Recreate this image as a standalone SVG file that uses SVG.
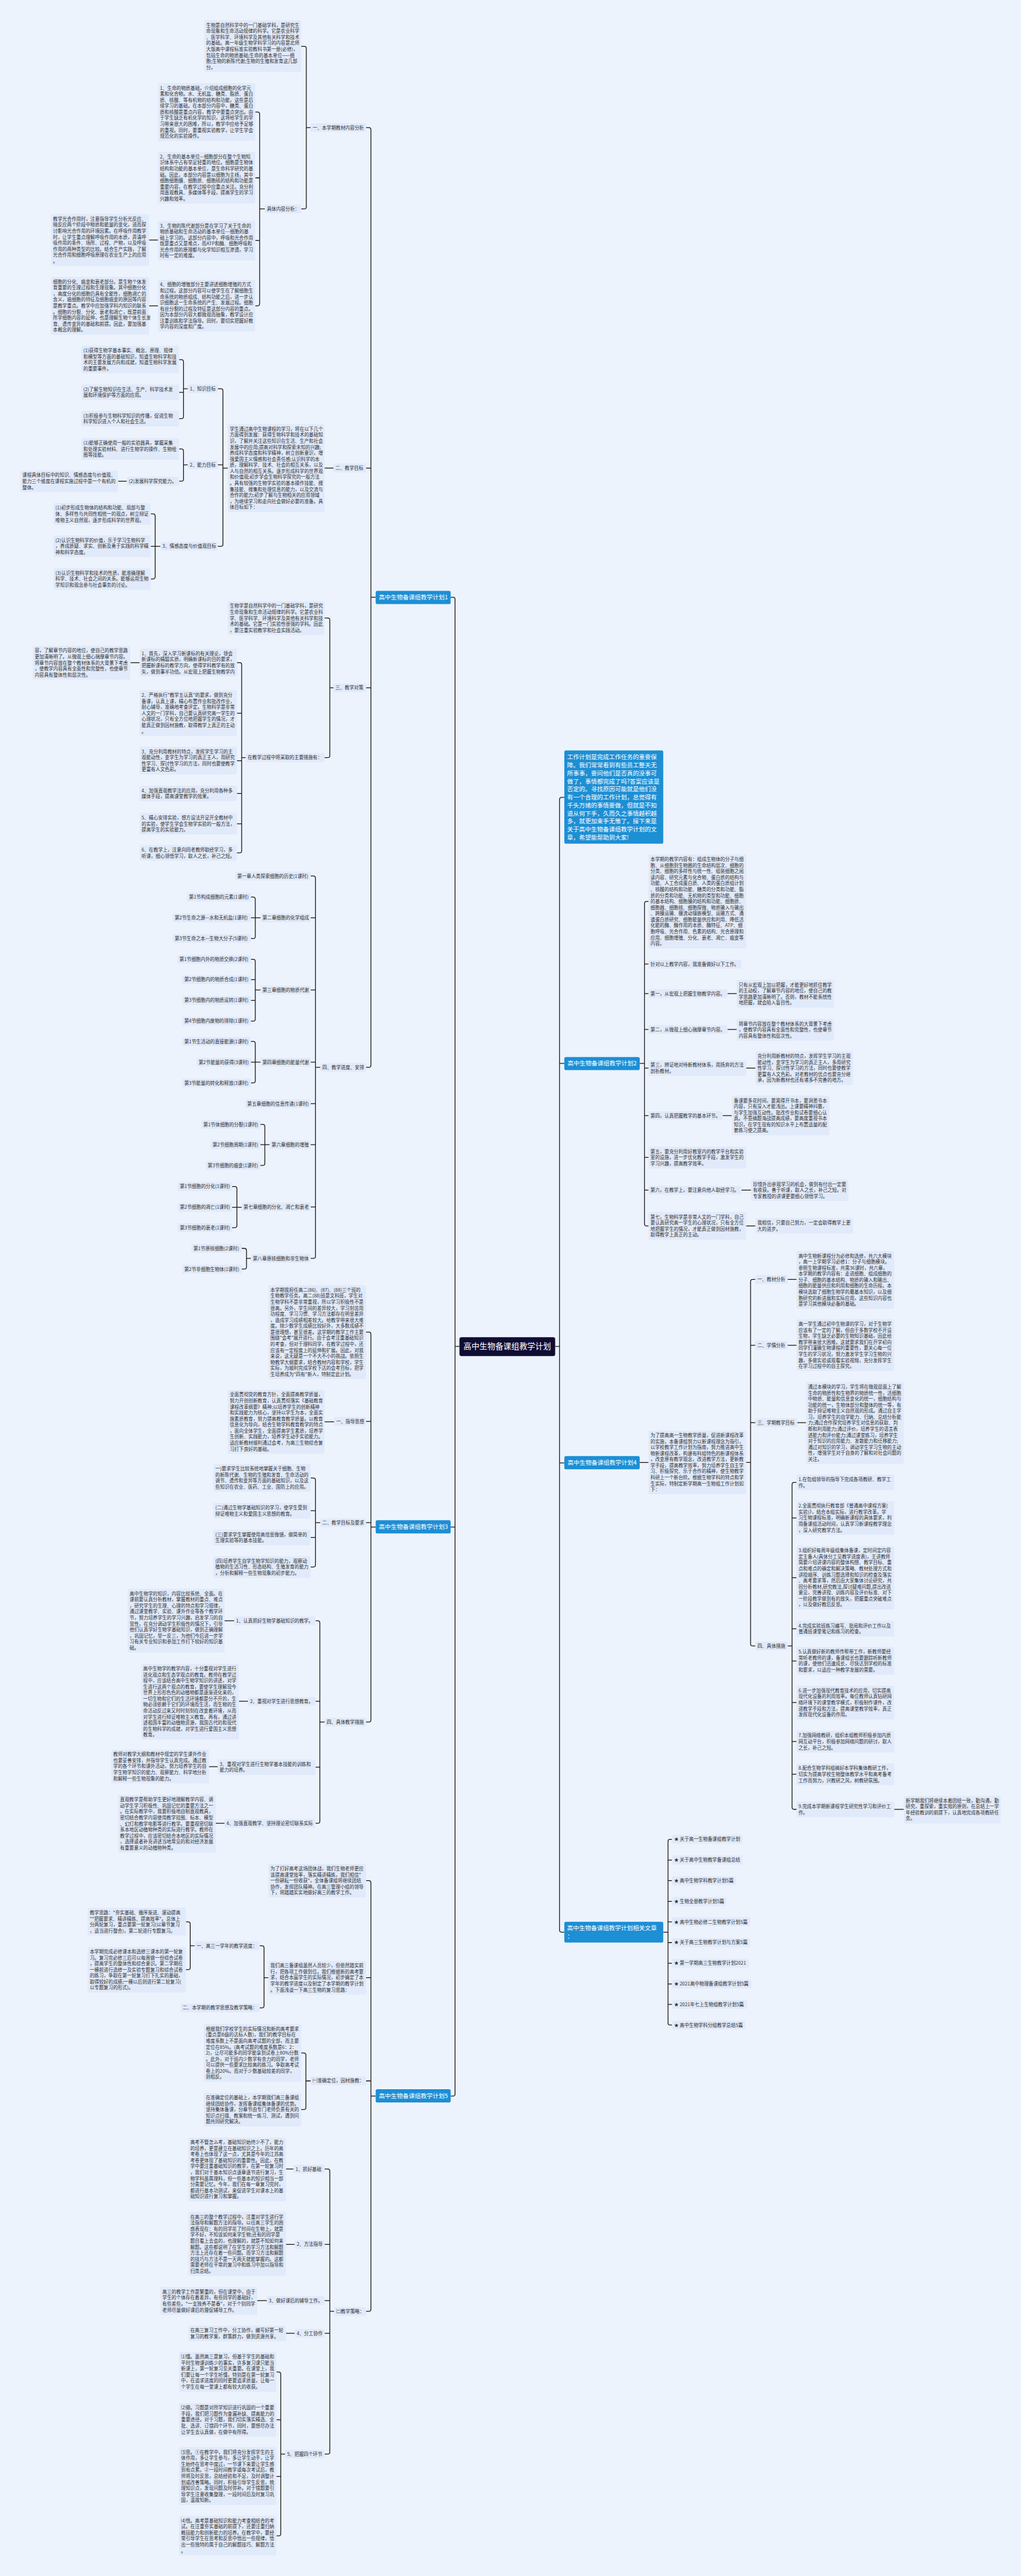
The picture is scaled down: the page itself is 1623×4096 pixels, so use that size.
<svg xmlns="http://www.w3.org/2000/svg" width="1623" height="4096" viewBox="0 0 1623 4096">
<style>
.bg{fill:#edf3fd}
.bx{fill:#e1eafa;rx:4px;ry:4px}
.t{font-family:"Noto Sans CJK SC","Noto Sans",sans-serif;font-size:11.7px;fill:#2e2e2e}
.l1{fill:#1c8fd5;rx:4px;ry:4px}
.cen{fill:#110c33;rx:5px;ry:5px}
.tw{font-family:"Noto Sans CJK SC","Noto Sans",sans-serif;font-size:15px;fill:#fff}
.ct{font-family:"Noto Sans CJK SC","Noto Sans",sans-serif;font-size:20px;fill:#fff;text-anchor:middle}
.cn{fill:none;stroke:#1a1a1a;stroke-width:2}
</style>
<rect class="bg" x="0" y="0" width="1623" height="4096"/>
<g transform="scale(0.63398)">
<g id="connectors" class="cn">
<path d="M755 116H763Q768 116 768 121V519Q768 524 763 524H755M768 320H779"/>
<path d="M640 281H646Q651 281 651 286V762Q651 767 646 767H640M640 446H651M640 603H651M651 524H664"/>
<path d="M374 602H396M374 767H396"/>
<path d="M918 320H925Q930 320 930 325V2672Q930 2677 925 2677H918M918 1174H930M918 1725H930M930 1498H942"/>
<path d="M814 1174H836"/>
<path d="M546 975H554Q559 975 559 980V1365Q559 1370 554 1370H546M546 1166H559M559 1174H571"/>
<path d="M449 902H455Q460 902 460 907V1045Q460 1050 455 1050H449M449 984H460M460 975H471"/>
<path d="M449 1126H455Q460 1126 460 1131V1202Q460 1207 455 1207H449M460 1166H471"/>
<path d="M296 1207H318"/>
<path d="M378 1289H384Q389 1289 389 1294V1447Q389 1452 384 1452H378M378 1370H402"/>
<path d="M814 1550H822Q827 1550 827 1555V1895Q827 1900 822 1900H814M827 1725H836"/>
<path d="M594 1662H601Q606 1662 606 1667V2134Q606 2139 601 2139H594M594 1789H606M594 1908H606M594 1990H606M594 2066H606M606 1900H616"/>
<path d="M327 1662H350"/>
<path d="M779 2197H786Q791 2197 791 2202V3151Q791 3156 786 3156H779M779 2302H791M779 2483H791M779 2664H791M779 2768H791M779 2871H791M779 3027H791M791 2677H803"/>
<path d="M629 2250H635Q640 2250 640 2255V2349Q640 2354 635 2354H629M629 2302H653"/>
<path d="M629 2406H635Q640 2406 640 2411V2556Q640 2561 635 2561H629M629 2457H640M629 2509H640M640 2483H653"/>
<path d="M629 2612H635Q640 2612 640 2617V2711Q640 2716 635 2716H629M629 2664H653"/>
<path d="M653 2820H659Q664 2820 664 2825V2918Q664 2923 659 2923H653M653 2871H676"/>
<path d="M582 2976H589Q594 2976 594 2981V3074Q594 3079 589 3079H582M582 3028H606"/>
<path d="M606 3131H613Q618 3131 618 3136V3178Q618 3183 613 3183H606M618 3156H629"/>
<path d="M1130 1498H1136Q1141 1498 1141 1503V5252Q1141 5257 1136 5257H1130M1130 3830H1141M1141 3377H1152"/>
<path d="M918 3341H925Q930 3341 930 3346V4314Q930 4319 925 4319H918M918 3565H930M918 3819H930M930 3830H942"/>
<path d="M814 3566H838"/>
<path d="M779 3707H786Q791 3707 791 3712V3925Q791 3930 786 3930H779M779 3789H791M779 3856H791M791 3819H803"/>
<path d="M791 4065H797Q802 4065 802 4070V4568Q802 4573 797 4573H791M791 4267H802M791 4432H802M802 4319H814"/>
<path d="M563 4065H587M599 4267H622M524 4431H546M541 4573H563"/>
<path d="M918 4717H925Q930 4717 930 4722V5792Q930 5797 925 5797H918M918 4960H930M918 5219H930M930 5257H942"/>
<path d="M651 4880H657Q662 4880 662 4885V5031Q662 5036 657 5036H651M662 4960H673"/>
<path d="M466 4820H472Q477 4820 477 4825V4935Q477 4940 472 4940H466M477 4880H488"/>
<path d="M755 5149H762Q767 5149 767 5154V5286Q767 5291 762 5291H755M767 5219H779"/>
<path d="M814 5440H822Q827 5440 827 5445V6150Q827 6155 822 6155H814M814 5629H827M814 5770H827M814 5852H827M827 5797H838"/>
<path d="M717 5440H736M717 5629H739M645 5770H669M717 5852H739"/>
<path d="M693 5949H699Q704 5949 704 5954V6355Q704 6360 699 6360H693M693 6069H704M693 6211H704M704 6155H715"/>
<path d="M1415 2000H1408Q1403 2000 1403 2005V4841Q1403 4846 1408 4846H1415M1403 2667H1415M1403 3669H1415M1392 3377H1403"/>
<path d="M1626 2261H1621Q1616 2261 1616 2266V3070Q1616 3075 1621 3075H1626M1616 2418H1626M1616 2492H1626M1616 2582H1626M1616 2679H1626M1616 2798H1626M1616 2903H1626M1616 2985H1626M1604 2667H1616"/>
<path d="M1824 2492H1847M1824 2582H1847M1871 2679H1894M1812 2798H1835M1859 2985H1883M1871 3075H1894"/>
<path d="M1604 3668H1626"/>
<path d="M1894 3209H1887Q1882 3209 1882 3214V4123Q1882 4128 1887 4128H1894M1882 3374H1894M1882 3568H1894M1871 3668H1882"/>
<path d="M1975 3209H1997M1975 3374H1997M1999 3568H2021"/>
<path d="M1997 3718H1991Q1986 3718 1986 3723V4533Q1986 4538 1991 4538H1997M1986 3807H1997M1986 3957H1997M1986 4085H1997M1986 4166H1997M1986 4270H1997M1986 4368H1997M1986 4450H1997M1975 4128H1986"/>
<path d="M2242 4538H2266"/>
<path d="M1685 4613H1680Q1675 4613 1675 4618V5074Q1675 5079 1680 5079H1685M1675 4665H1685M1675 4717H1685M1675 4769H1685M1675 4820H1685M1675 4872H1685M1675 4924H1685M1675 4976H1685M1675 5027H1685M1663 4846H1675"/>
</g>

<g id="center"><rect class="cen" x="1152" y="3354" width="240" height="47"/><text class="ct" x="1272" y="3384">高中生物备课组教学计划</text></g>

<!-- 计划1 -->
<g id="plan1"><rect class="l1" x="942" y="1482" width="188" height="33"/><text class="tw" x="950" y="1503.4">高中生物备课组教学计划1</text></g>
<g id="p1-s1"><rect class="bx" x="779" y="309" width="139" height="22"/><text class="t" x="784" y="324.3">一、本学期教材内容分析</text></g>
<g id="p1-a1"><rect class="bx" x="512" y="51" width="243" height="129.7"/><text class="t" x="517" y="67.3"><tspan x="517">生物是自然科学中的一门基础学科，是研究生</tspan><tspan x="517" dy="15.1">命现象和生命活动规律的科学。它是农业科学</tspan><tspan x="517" dy="15.1">、医学科学、环境科学及其他有关科学和技术</tspan><tspan x="517" dy="15.1">的基础。高一年级生物学科学习的内容是北师</tspan><tspan x="517" dy="15.1">大版高中课程标准实验教科书第一册(必修)，</tspan><tspan x="517" dy="15.1">包括生命的物质基础;生命的基本单位——细</tspan><tspan x="517" dy="15.1">胞;生物的新陈代谢;生物的生殖和发育这几部</tspan><tspan x="517" dy="15.1">分。</tspan></text></g>
<g id="p1-jt"><rect class="bx" x="664" y="513" width="91" height="22"/><text class="t" x="669" y="528.3">具体内容分析：</text></g>
<g id="p1-b1"><rect class="bx" x="396" y="208.6" width="244" height="144.8"/><text class="t" x="401" y="224.9"><tspan x="401">1、生命的物质基础，介绍组成细胞的化学元</tspan><tspan x="401" dy="15.1">素和化合物。水、无机盐、糖类、脂质、蛋白</tspan><tspan x="401" dy="15.1">质、核酸、等有机物的结构和功能，这些是后</tspan><tspan x="401" dy="15.1">续学习的基础。在本部分内容中，糖类、蛋白</tspan><tspan x="401" dy="15.1">质和核酸是重点内容，教学中要重点突出。由</tspan><tspan x="401" dy="15.1">于学生缺乏有机化学的知识，这将给学生的学</tspan><tspan x="401" dy="15.1">习带来很大的困难，所以，教学中应给予足够</tspan><tspan x="401" dy="15.1">的重视。同时，要重视实验教学，让学生学会</tspan><tspan x="401" dy="15.1">规范化的实验操作。</tspan></text></g>
<g id="p1-b2"><rect class="bx" x="396" y="381" width="244" height="129.7"/><text class="t" x="401" y="397.3"><tspan x="401">2、生命的基本单位—细胞部分在整个生物知</tspan><tspan x="401" dy="15.1">识体系中占有举足轻重的地位。细胞是生物体</tspan><tspan x="401" dy="15.1">结构和功能的基本单位，是生命科学研究的基</tspan><tspan x="401" dy="15.1">础。因此，本部分内容是以细胞为主线，其中</tspan><tspan x="401" dy="15.1">细胞细胞膜、细胞质、细胞核的结构和功能是</tspan><tspan x="401" dy="15.1">重要内容，在教学过程中应重点关注。充分利</tspan><tspan x="401" dy="15.1">用直观教具、多媒体等手段，提高学生的学习</tspan><tspan x="401" dy="15.1">兴趣和效率。</tspan></text></g>
<g id="p1-b3"><rect class="bx" x="396" y="554" width="244" height="99.5"/><text class="t" x="401" y="570.3"><tspan x="401">3、生物的陈代谢部分是在学习了关于生命的</tspan><tspan x="401" dy="15.1">物质基础和生命活动的基本单位---细胞的基</tspan><tspan x="401" dy="15.1">础上学习的。这部分内容中，呼吸和光合作用</tspan><tspan x="401" dy="15.1">既是重点又是难点，而ATP和酶、细胞呼吸和</tspan><tspan x="401" dy="15.1">光合作用的原理都与化学知识相互渗透，学习</tspan><tspan x="401" dy="15.1">时有一定的难度。</tspan></text></g>
<g id="p1-c3"><rect class="bx" x="128" y="537" width="246" height="129.7"/><text class="t" x="133" y="553.3"><tspan x="133">教学光合作用时，注意指导学生分析光反应、</tspan><tspan x="133" dy="15.1">暗反应两个阶段中物质和能量的变化，进而探</tspan><tspan x="133" dy="15.1">讨影响光合作用的环境因素。在呼吸作用教学</tspan><tspan x="133" dy="15.1">时，让学生重点理解呼吸作用的本质，弄清呼</tspan><tspan x="133" dy="15.1">吸作用的条件、场所、过程、产物，以及呼吸</tspan><tspan x="133" dy="15.1">作用的两种类型的比较。结合生产实践，了解</tspan><tspan x="133" dy="15.1">光合作用和细胞呼吸原理在农业生产上的应用</tspan><tspan x="133" dy="15.1">。</tspan></text></g>
<g id="p1-b4"><rect class="bx" x="396" y="702" width="244" height="129.7"/><text class="t" x="401" y="718.3"><tspan x="401">4、细胞的增殖部分主要讲述细胞增殖的方式</tspan><tspan x="401" dy="15.1">和过程。这部分内容可以使学生在了解细胞生</tspan><tspan x="401" dy="15.1">命系统的物质组成、结构功能之后，进一步认</tspan><tspan x="401" dy="15.1">识细胞这一生命系统的产生、发展过程。细胞</tspan><tspan x="401" dy="15.1">有丝分裂的过程及特征是这部分内容的重点。</tspan><tspan x="401" dy="15.1">因为本部分内容大都微观而抽象，教学设计应</tspan><tspan x="401" dy="15.1">注重训练和学法指导。同时，要切实把握好教</tspan><tspan x="401" dy="15.1">学内容的深度和广度。</tspan></text></g>
<g id="p1-c4"><rect class="bx" x="128" y="694.6" width="246" height="144.8"/><text class="t" x="133" y="710.9"><tspan x="133">细胞的分化、癌变和衰老部分。是生物个体发</tspan><tspan x="133" dy="15.1">育重要的生理过程和生理现象。其中细胞分化</tspan><tspan x="133" dy="15.1">，高度分化的细胞仍具有全能性，细胞凋亡的</tspan><tspan x="133" dy="15.1">含义，癌细胞的特征及细胞癌变的原因等内容</tspan><tspan x="133" dy="15.1">是教学重点。教学中应加强学科内知识的联系</tspan><tspan x="133" dy="15.1">。细胞的分裂、分化、衰老和凋亡，既是前面</tspan><tspan x="133" dy="15.1">所学细胞内容的延伸，也是理解生物个体生长发</tspan><tspan x="133" dy="15.1">育、遗传变异的基础和前提。因此，要加强基</tspan><tspan x="133" dy="15.1">本概念的理解。</tspan></text></g>
<g id="p1-s2"><rect class="bx" x="836" y="1163" width="82" height="22"/><text class="t" x="841" y="1178.3">二、教学目标</text></g>
<g id="p1-d"><rect class="bx" x="571" y="1063.9" width="243" height="220.3"/><text class="t" x="576" y="1080.2"><tspan x="576">学生通过高中生物课程的学习，将在以下几个</tspan><tspan x="576" dy="15.1">方面得到发展：获得生物科学和技术的基础知</tspan><tspan x="576" dy="15.1">识，了解并关注这些知识在生活、生产和社会</tspan><tspan x="576" dy="15.1">发展中的应用;提高对科学和探索未知的兴趣;</tspan><tspan x="576" dy="15.1">养成科学态度和科学精神，树立创新意识，增</tspan><tspan x="576" dy="15.1">强爱国主义情感和社会责任感;认识科学的本</tspan><tspan x="576" dy="15.1">质，理解科学、技术、社会的相互关系，以及</tspan><tspan x="576" dy="15.1">人与自然的相互关系。逐步形成科学的世界观</tspan><tspan x="576" dy="15.1">和价值观;初步学会生物科学探究的一般方法</tspan><tspan x="576" dy="15.1">。具有较强的生物学实验的基本操作技能、搜</tspan><tspan x="576" dy="15.1">集技能、搜集和处理信息的能力，以及交流与</tspan><tspan x="576" dy="15.1">合作的能力;初步了解与生物相关的应用领域</tspan><tspan x="576" dy="15.1">，为继续学习和走向社会做好必要的准备。具</tspan><tspan x="576" dy="15.1">体目标如下：</tspan></text></g>
<g id="p1-zs"><rect class="bx" x="471" y="964" width="75" height="22"/><text class="t" x="476" y="979.3">1、知识目标</text></g>
<g id="p1-e1"><rect class="bx" x="204" y="867" width="245" height="69.3"/><text class="t" x="209" y="883.3"><tspan x="209">(1)获得生物学基本事实、概念、原理、规律</tspan><tspan x="209" dy="15.1">和模型等方面的基础知识，知道生物科学和技</tspan><tspan x="209" dy="15.1">术的主要发展方向和成就，知道生物科学发展</tspan><tspan x="209" dy="15.1">的重要事件。</tspan></text></g>
<g id="p1-e2"><rect class="bx" x="204" y="964.5" width="245" height="39.1"/><text class="t" x="209" y="980.8"><tspan x="209">(2)了解生物知识在生活、生产、科学技术发</tspan><tspan x="209" dy="15.1">展和环境保护等方面的应用。</tspan></text></g>
<g id="p1-e3"><rect class="bx" x="204" y="1030.5" width="245" height="39.1"/><text class="t" x="209" y="1046.8"><tspan x="209">(3)积极参与生物科学知识的传播，促进生物</tspan><tspan x="209" dy="15.1">科学知识进入个人和社会生活。</tspan></text></g>
<g id="p1-nl"><rect class="bx" x="471" y="1155" width="75" height="22"/><text class="t" x="476" y="1170.3">2、能力目标</text></g>
<g id="p1-f1"><rect class="bx" x="204" y="1099" width="245" height="54.2"/><text class="t" x="209" y="1115.3"><tspan x="209">(1)能够正确使用一般的实验器具，掌握采集</tspan><tspan x="209" dy="15.1">和处理实验材料、进行生物学的操作、生物绘</tspan><tspan x="209" dy="15.1">图等技能。</tspan></text></g>
<g id="p1-f2"><rect class="bx" x="318" y="1196" width="131" height="22"/><text class="t" x="323" y="1211.3">(2)发展科学探究能力。</text></g>
<g id="p1-g"><rect class="bx" x="51" y="1180" width="245" height="54.2"/><text class="t" x="56" y="1196.3"><tspan x="56">课程具体目标中的知识、情感态度与价值观、</tspan><tspan x="56" dy="15.1">能力三个维度在课程实施过程中是一个有机的</tspan><tspan x="56" dy="15.1">整体。</tspan></text></g>
<g id="p1-qg"><rect class="bx" x="402" y="1359" width="144" height="22"/><text class="t" x="407" y="1374.3">3、情感态度与价值观目标</text></g>
<g id="p1-h1"><rect class="bx" x="134" y="1262" width="244" height="54.2"/><text class="t" x="139" y="1278.3"><tspan x="139">(1)初步形成生物体的结构和功能、局部与整</tspan><tspan x="139" dy="15.1">体、多样性与共同性相统一的观点，树立辩证</tspan><tspan x="139" dy="15.1">唯物主义自然观，逐步形成科学的世界观。</tspan></text></g>
<g id="p1-h2"><rect class="bx" x="134" y="1343" width="244" height="54.2"/><text class="t" x="139" y="1359.3"><tspan x="139">(2)认识生物科学的价值，乐于学习生物科学</tspan><tspan x="139" dy="15.1">，养成质疑、求实、创新及勇于实践的科学精</tspan><tspan x="139" dy="15.1">神和科学态度。</tspan></text></g>
<g id="p1-h3"><rect class="bx" x="134" y="1425" width="244" height="54.2"/><text class="t" x="139" y="1441.3"><tspan x="139">(3)认识生物科学和技术的性质，能准确理解</tspan><tspan x="139" dy="15.1">科学、技术、社会之间的关系。能够运用生物</tspan><tspan x="139" dy="15.1">学知识和观念参与社会事务的讨论。</tspan></text></g>
<g id="p1-s3"><rect class="bx" x="836" y="1714" width="82" height="22"/><text class="t" x="841" y="1729.3">三、教学对策</text></g>
<g id="p1-i1"><rect class="bx" x="571" y="1508" width="243" height="84.4"/><text class="t" x="576" y="1524.3"><tspan x="576">生物学是自然科学中的一门基础学科，是研究</tspan><tspan x="576" dy="15.1">生命现象和生命活动规律的科学。它是农业科</tspan><tspan x="576" dy="15.1">学、医学科学、环境科学及其他有关科学和技</tspan><tspan x="576" dy="15.1">术的基础。它是一门实验性很强的学科。因此</tspan><tspan x="576" dy="15.1">，要注重实验教学和社会实践活动。</tspan></text></g>
<g id="p1-cs"><rect class="bx" x="616" y="1889" width="198" height="22"/><text class="t" x="621" y="1904.3">在教学过程中将采取的主要措施有：</text></g>
<g id="p1-j1"><rect class="bx" x="350" y="1627" width="244" height="69.3"/><text class="t" x="355" y="1643.3"><tspan x="355">1、首先，深入学习新课标的有关理论，领会</tspan><tspan x="355" dy="15.1">新课标的精髓实质，明确新课标的目的要求，</tspan><tspan x="355" dy="15.1">把握新课标的教学方向，使得学科教学有的放</tspan><tspan x="355" dy="15.1">矢，做到事半功倍。从宏观上把握生物教学内</tspan></text></g>
<g id="p1-j1a"><rect class="bx" x="82" y="1620" width="245" height="84.4"/><text class="t" x="87" y="1636.3"><tspan x="87">容，了解章节内容的地位，使自己的教学思路</tspan><tspan x="87" dy="15.1">更加清晰明了。从微观上细心揣摩章节内容。</tspan><tspan x="87" dy="15.1">将章节内容放在整个教材体系的大背景下考虑</tspan><tspan x="87" dy="15.1">，使教学内容具有全面性和完整性，也使章节</tspan><tspan x="87" dy="15.1">内容具有整体性和层次性。</tspan></text></g>
<g id="p1-j2"><rect class="bx" x="350" y="1731.7" width="244" height="114.6"/><text class="t" x="355" y="1748"><tspan x="355">2、严格执行"教学五认真"的要求，做到充分</tspan><tspan x="355" dy="15.1">备课，认真上课，精心布置作业和批改作业，</tspan><tspan x="355" dy="15.1">耐心辅导，准确地考查评定。生物科学是非常</tspan><tspan x="355" dy="15.1">人文的一门学科，自己要认真研究高一学生的</tspan><tspan x="355" dy="15.1">心理状况，只有全方位地把握学生的情况，才</tspan><tspan x="355" dy="15.1">能真正做到因材施教，取得教学上真正的主动</tspan><tspan x="355" dy="15.1">。</tspan></text></g>
<g id="p1-j3"><rect class="bx" x="350" y="1873" width="244" height="69.3"/><text class="t" x="355" y="1889.3"><tspan x="355">3、充分利用教材的特点，发挥学生学习的主</tspan><tspan x="355" dy="15.1">观能动性，变学生为学习的真正主人，用研究</tspan><tspan x="355" dy="15.1">性学习、探讨性学习的方法，同时也要使教学</tspan><tspan x="355" dy="15.1">更富有人文色彩。</tspan></text></g>
<g id="p1-j4"><rect class="bx" x="350" y="1970.5" width="244" height="39.1"/><text class="t" x="355" y="1986.8"><tspan x="355">4、加强直观教学法的应用，充分利用各种多</tspan><tspan x="355" dy="15.1">媒体手段，提高课堂教学的效果。</tspan></text></g>
<g id="p1-j5"><rect class="bx" x="350" y="2039" width="244" height="54.2"/><text class="t" x="355" y="2055.3"><tspan x="355">5、精心安排实验，想方设法开足开全教材中</tspan><tspan x="355" dy="15.1">的实验，使学生学会生物学实验的一般方法，</tspan><tspan x="355" dy="15.1">提高学生的实验能力。</tspan></text></g>
<g id="p1-j6"><rect class="bx" x="350" y="2119.5" width="244" height="39.1"/><text class="t" x="355" y="2135.8"><tspan x="355">6、在教学上，注意向同老教师取经学习，多</tspan><tspan x="355" dy="15.1">听课，细心领悟学习，取人之长，补己之短。</tspan></text></g>
<g id="p1-s4"><rect class="bx" x="803" y="2666" width="115" height="22"/><text class="t" x="808" y="2681.3">四、教学进度、安排</text></g>
<g id="ch1"><rect class="bx" x="590" y="2186" width="189" height="22"/><text class="t" x="595" y="2201.3">第一章人类探索细胞的历史(1课时)</text></g>
<g id="ch2"><rect class="bx" x="653" y="2291" width="126" height="22"/><text class="t" x="658" y="2306.3">第二章细胞的化学组成</text></g>
<g id="ch3"><rect class="bx" x="653" y="2472" width="126" height="22"/><text class="t" x="658" y="2487.3">第三章细胞的物质代谢</text></g>
<g id="ch4"><rect class="bx" x="653" y="2653" width="126" height="22"/><text class="t" x="658" y="2668.3">第四章细胞的能量代谢</text></g>
<g id="ch5"><rect class="bx" x="615" y="2757" width="164" height="22"/><text class="t" x="620" y="2772.3">第五章细胞的信息传递(1课时)</text></g>
<g id="ch6"><rect class="bx" x="676" y="2860" width="103" height="22"/><text class="t" x="681" y="2875.3">第六章细胞的增殖</text></g>
<g id="ch7"><rect class="bx" x="606" y="3016" width="173" height="22"/><text class="t" x="611" y="3031.3">第七章细胞的分化、凋亡和衰老</text></g>
<g id="ch8"><rect class="bx" x="629" y="3145" width="150" height="22"/><text class="t" x="634" y="3160.3">第八章原核细胞和非生物体</text></g>
<g id="ch2-1"><rect class="bx" x="469" y="2239" width="160" height="22"/><text class="t" x="474" y="2254.3">第1节构成细胞的元素(1课时)</text></g>
<g id="ch2-2"><rect class="bx" x="433" y="2291" width="196" height="22"/><text class="t" x="438" y="2306.3">第2节生命之源—水和无机盐(1课时)</text></g>
<g id="ch2-3"><rect class="bx" x="433" y="2343" width="196" height="22"/><text class="t" x="438" y="2358.3">第3节生命之本—生物大分子(5课时)</text></g>
<g id="ch3-1"><rect class="bx" x="445" y="2395" width="184" height="22"/><text class="t" x="450" y="2410.3">第1节细胞内外的物质交换(2课时)</text></g>
<g id="ch3-2"><rect class="bx" x="457" y="2446" width="172" height="22"/><text class="t" x="462" y="2461.3">第2节细胞内的物质合成(1课时)</text></g>
<g id="ch3-3"><rect class="bx" x="457" y="2498" width="172" height="22"/><text class="t" x="462" y="2513.3">第3节细胞内的物质运转(1课时)</text></g>
<g id="ch3-4"><rect class="bx" x="457" y="2550" width="172" height="22"/><text class="t" x="462" y="2565.3">第4节细胞内废物的排除(1课时)</text></g>
<g id="ch4-1"><rect class="bx" x="457" y="2601" width="172" height="22"/><text class="t" x="462" y="2616.3">第1节生活动的直接能源(1课时)</text></g>
<g id="ch4-2"><rect class="bx" x="493" y="2653" width="136" height="22"/><text class="t" x="498" y="2668.3">第2节能量的获得(3课时)</text></g>
<g id="ch4-3"><rect class="bx" x="457" y="2705" width="172" height="22"/><text class="t" x="462" y="2720.3">第3节能量的转化和释放(3课时)</text></g>
<g id="ch6-1"><rect class="bx" x="505" y="2809" width="148" height="22"/><text class="t" x="510" y="2824.3">第1节体细胞的分裂(1课时)</text></g>
<g id="ch6-2"><rect class="bx" x="528" y="2860" width="125" height="22"/><text class="t" x="533" y="2875.3">第2节细胞周期(1课时)</text></g>
<g id="ch6-3"><rect class="bx" x="516" y="2912" width="137" height="22"/><text class="t" x="521" y="2927.3">第3节细胞的癌变(1课时)</text></g>
<g id="ch7-1"><rect class="bx" x="446" y="2965" width="136" height="22"/><text class="t" x="451" y="2980.3">第1节细胞的分化(1课时)</text></g>
<g id="ch7-2"><rect class="bx" x="446" y="3017" width="136" height="22"/><text class="t" x="451" y="3032.3">第2节细胞的凋亡(1课时)</text></g>
<g id="ch7-3"><rect class="bx" x="446" y="3068" width="136" height="22"/><text class="t" x="451" y="3083.3">第3节细胞的衰老(1课时)</text></g>
<g id="ch8-1"><rect class="bx" x="480" y="3120" width="126" height="22"/><text class="t" x="485" y="3135.3">第1节原核细胞(2课时)</text></g>
<g id="ch8-2"><rect class="bx" x="457" y="3172" width="149" height="22"/><text class="t" x="462" y="3187.3">第2节非细胞生物体(1课时)</text></g>

<!-- 计划3 -->
<g id="plan3"><rect class="l1" x="942" y="3813" width="188" height="33"/><text class="tw" x="950" y="3835">高中生物备课组教学计划3</text></g>
<g id="p3-k0"><rect class="bx" x="673" y="3223.3" width="245" height="235.4"/><text class="t" x="678" y="3239.6"><tspan x="678">本学期我担任高二(86)、(87)、(88)三个班的</tspan><tspan x="678" dy="15.1">生物教学任务。高二(88)班是文科班，学生对</tspan><tspan x="678" dy="15.1">生物学科不是非常重视，所以学习积极性不是</tspan><tspan x="678" dy="15.1">很高。另外，学生间的差异较大，学习刻苦用</tspan><tspan x="678" dy="15.1">功程度、学习习惯、学习方法都存在明显差异</tspan><tspan x="678" dy="15.1">，造成学习成绩相差较大。给教学带来很大难</tspan><tspan x="678" dy="15.1">度。除少数学生成绩比较好外，大多数成绩不</tspan><tspan x="678" dy="15.1">是很理想，甚至很差。这学期的教学工作主要</tspan><tspan x="678" dy="15.1">围绕"会考"展开进行。由于会考注重基础知识</tspan><tspan x="678" dy="15.1">的考查，但对于理科同学，在教学过程中，还</tspan><tspan x="678" dy="15.1">应该有一定程度上的延伸和扩展。因此，对我</tspan><tspan x="678" dy="15.1">来说，这无疑是一个不大不小的挑战。依照生</tspan><tspan x="678" dy="15.1">物教学大纲要求，结合教材内容和学校，学生</tspan><tspan x="678" dy="15.1">实际，为顺利完成学校下达的会考目标，把学</tspan><tspan x="678" dy="15.1">生培养成为"四有"新人，特制定此计划。</tspan></text></g>
<g id="p3-s1"><rect class="bx" x="838" y="3554" width="80" height="22"/><text class="t" x="843" y="3569.3">一、指导思想</text></g>
<g id="p3-k1"><rect class="bx" x="571" y="3486" width="243" height="159.9"/><text class="t" x="576" y="3502.3"><tspan x="576">全面贯彻党的教育方针，全面提高教学质量，</tspan><tspan x="576" dy="15.1">努力开创创新教育，认真贯彻落实《基础教育</tspan><tspan x="576" dy="15.1">课程改革纲要》精神;以培养学生的创新精神</tspan><tspan x="576" dy="15.1">和实践能力为核心，坚持以学生为本，全面实</tspan><tspan x="576" dy="15.1">施素质教育，努力提高教育教学质量。以教育</tspan><tspan x="576" dy="15.1">信息化为导向，结合生物学科教育教学的特点</tspan><tspan x="576" dy="15.1">，面向全体学生，全面提高学生素质，培养学</tspan><tspan x="576" dy="15.1">生创新、实践能力，培养学生动手实验能力。</tspan><tspan x="576" dy="15.1">适应新教材顺利通过会考，为高三生物综合复</tspan><tspan x="576" dy="15.1">习打下良好的基础。</tspan></text></g>
<g id="p3-s2"><rect class="bx" x="803" y="3808" width="115" height="22"/><text class="t" x="808" y="3823.3">二、教学目标及要求</text></g>
<g id="p3-l1"><rect class="bx" x="535" y="3672" width="244" height="69.3"/><text class="t" x="540" y="3688.3"><tspan x="540">一)要求学生比较系统地掌握关于细胞、生物</tspan><tspan x="540" dy="15.1">的新陈代谢、生物的生殖和发育、生命活动的</tspan><tspan x="540" dy="15.1">调节、遗传和变异等方面的基础知识，以及这</tspan><tspan x="540" dy="15.1">些知识在农业、医药、工业、国防上的应用。</tspan></text></g>
<g id="p3-l2"><rect class="bx" x="535" y="3769.5" width="244" height="39.1"/><text class="t" x="540" y="3785.8"><tspan x="540">(二)通过生物学基础知识的学习，使学生受到</tspan><tspan x="540" dy="15.1">辩证唯物主义和爱国主义思想的教育。</tspan></text></g>
<g id="p3-l3"><rect class="bx" x="535" y="3836.5" width="244" height="39.1"/><text class="t" x="540" y="3852.8"><tspan x="540">(三)要求学生掌握使用高倍显微镜，做简单的</tspan><tspan x="540" dy="15.1">生理实验等的基本技能。</tspan></text></g>
<g id="p3-l4"><rect class="bx" x="535" y="3903" width="244" height="54.2"/><text class="t" x="540" y="3919.3"><tspan x="540">(四)培养学生自学生物学知识的能力，观察动</tspan><tspan x="540" dy="15.1">植物的生活习性、形态结构、生殖发育的能力</tspan><tspan x="540" dy="15.1">，分析和解释一些生物现象的初步能力。</tspan></text></g>
<g id="p3-s4"><rect class="bx" x="814" y="4308" width="104" height="22"/><text class="t" x="819" y="4323.3">四、具体教学措施</text></g>
<g id="p3-m1"><rect class="bx" x="587" y="4054" width="204" height="22"/><text class="t" x="592" y="4069.3">1、认真抓好生物学基础知识的教学。</text></g>
<g id="p3-n1"><rect class="bx" x="320" y="3985" width="243" height="159.9"/><text class="t" x="325" y="4001.3"><tspan x="325">高中生物学的知识，内容比较系统、全面。在</tspan><tspan x="325" dy="15.1">课前要认真分析教材，掌握教材的重点、难点</tspan><tspan x="325" dy="15.1">，研究学生的生理、心理的特点和学习规律，</tspan><tspan x="325" dy="15.1">通过课堂教学、实验、课外作业等各个教学环</tspan><tspan x="325" dy="15.1">节，努力培养学生的学习兴趣，启发学习的自</tspan><tspan x="325" dy="15.1">觉性，在充分调动学生积极性的情况下，引导</tspan><tspan x="325" dy="15.1">他们认真学好生物学基础知识，做到正确理解</tspan><tspan x="325" dy="15.1">，巩固记忆，举一反三，为他们今后进一步学</tspan><tspan x="325" dy="15.1">习有关专业知识和参加工作打下较好的知识基</tspan><tspan x="325" dy="15.1">础。</tspan></text></g>
<g id="p3-m2"><rect class="bx" x="622" y="4256" width="169" height="22"/><text class="t" x="627" y="4271.3">2、重视对学生进行思想教育。</text></g>
<g id="p3-n2"><rect class="bx" x="354" y="4173" width="245" height="190.1"/><text class="t" x="359" y="4189.3"><tspan x="359">高中生物学的教学内容，十分重视对学生进行</tspan><tspan x="359" dy="15.1">进化观点和生态学观点的教育。教师在教学过</tspan><tspan x="359" dy="15.1">程中，应该结合高中生物学知识的讲述，对学</tspan><tspan x="359" dy="15.1">生进行这两个观点的教育，要使学生理解现今</tspan><tspan x="359" dy="15.1">世界上形形色色的动植物都是逐渐进化来的，</tspan><tspan x="359" dy="15.1">一切生物和它们的生活环境都是分不开的，生</tspan><tspan x="359" dy="15.1">物必须依赖于它们的环境而生活，而生物的生</tspan><tspan x="359" dy="15.1">命活动反过来又时时刻刻在改变着环境，从而</tspan><tspan x="359" dy="15.1">对学生进行辩证唯物主义教育。再有，通过讲</tspan><tspan x="359" dy="15.1">述祖国丰富的动植物资源，我国古代的和现代</tspan><tspan x="359" dy="15.1">的生物科学的成就，对学生进行爱国主义思想</tspan><tspan x="359" dy="15.1">教育。</tspan></text></g>
<g id="p3-m3"><rect class="bx" x="546" y="4412.5" width="245" height="39.1"/><text class="t" x="551" y="4428.8"><tspan x="551">3、重视对学生进行生物学基本技能的训练和</tspan><tspan x="551" dy="15.1">能力的培养。</tspan></text></g>
<g id="p3-n3"><rect class="bx" x="279" y="4388" width="245" height="84.4"/><text class="t" x="284" y="4404.3"><tspan x="284">教师对教学大纲和教材中规定的学生课外作业</tspan><tspan x="284" dy="15.1">也要妥善安排，并指导学生认真完成。通过教</tspan><tspan x="284" dy="15.1">学的各个环节和课外活动，努力培养学生的自</tspan><tspan x="284" dy="15.1">学生物学知识的能力、观察能力、科学地分析</tspan><tspan x="284" dy="15.1">和解释一些生物现象的能力。</tspan></text></g>
<g id="p3-m4"><rect class="bx" x="563" y="4562" width="228" height="22"/><text class="t" x="568" y="4577.3">4、加强直观教学、坚持理论密切联系实际</text></g>
<g id="p3-n4"><rect class="bx" x="296" y="4501.6" width="245" height="144.8"/><text class="t" x="301" y="4517.9"><tspan x="301">直观教学是帮助学生更好地理解教学内容、调</tspan><tspan x="301" dy="15.1">动学生学习积极性、巩固记忆的重要方法之一</tspan><tspan x="301" dy="15.1">。在实际教学中，我要积极地自制直观教具，</tspan><tspan x="301" dy="15.1">密切结合教学内容使用教学挂图、标本、模型</tspan><tspan x="301" dy="15.1">、幻灯和教学电影等进行教学。要重视密切联</tspan><tspan x="301" dy="15.1">系本地区动植物种类的实际进行教学。教师在</tspan><tspan x="301" dy="15.1">教学过程中，应该密切结合本地区的实际情况</tspan><tspan x="301" dy="15.1">，选择或者补充讲述当地常见的和对经济发展</tspan><tspan x="301" dy="15.1">有重要意义的动植物种类。</tspan></text></g>

<!-- 计划5 -->
<g id="plan5"><rect class="l1" x="942" y="5240" width="188" height="33"/><text class="tw" x="950" y="5262">高中生物备课组教学计划5</text></g>
<g id="p5-p0"><rect class="bx" x="673" y="4675" width="245" height="84.4"/><text class="t" x="678" y="4691.3"><tspan x="678">为了打好高考这场团体战，我们生物老师更应</tspan><tspan x="678" dy="15.1">该提高课堂效率，落实精讲精练，我们相信"</tspan><tspan x="678" dy="15.1">一份耕耘一份收获"，全体备课组将继续团结</tspan><tspan x="678" dy="15.1">协作，发挥团队精神。在高三管理小组的领导</tspan><tspan x="678" dy="15.1">下，将踏踏实实地做好高三的教学工作。</tspan></text></g>
<g id="p5-p1"><rect class="bx" x="673" y="4918" width="245" height="84.4"/><text class="t" x="678" y="4934.3"><tspan x="678">我们高三备课组虽然人员较少，但依然踏实前</tspan><tspan x="678" dy="15.1">行，把各项工作做到位。我们根据新的高考要</tspan><tspan x="678" dy="15.1">求，结合本届学生的实际情况，初步确定了本</tspan><tspan x="678" dy="15.1">学年的教学进度以及制定了本学期的教学计划</tspan><tspan x="678" dy="15.1">。下面浅谈一下高三生物的复习思路：</tspan></text></g>
<g id="p5-q"><rect class="bx" x="488" y="4869" width="163" height="22"/><text class="t" x="493" y="4884.3">一、高三一学年的教学进度：</text></g>
<g id="p5-q1"><rect class="bx" x="220" y="4785" width="246" height="69.3"/><text class="t" x="225" y="4801.3"><tspan x="225">教学思路："夯实基础、循序渐进、滚动提高</tspan><tspan x="225" dy="15.1">""把握要求、精讲精练、提高效率"。总体上</tspan><tspan x="225" dy="15.1">分两轮复习，重点要第一轮复习(以章节复习</tspan><tspan x="225" dy="15.1">，适当进行整合)，第二轮进行专题复习。</tspan></text></g>
<g id="p5-q2"><rect class="bx" x="220" y="4883" width="246" height="114.6"/><text class="t" x="225" y="4899.3"><tspan x="225">本学期完成必修课本和选修三课本的第一轮复</tspan><tspan x="225" dy="15.1">习。复习完必修三后可以每周做一份综合试卷</tspan><tspan x="225" dy="15.1">，提高学生的整体性和综合意识。第二学期在</tspan><tspan x="225" dy="15.1">一模前进行选修一及实验专题复习和综合试卷</tspan><tspan x="225" dy="15.1">的练习，争取在第一轮复习打下扎实的基础，</tspan><tspan x="225" dy="15.1">取得较好的成绩;一模以后则进行第二轮复习(</tspan><tspan x="225" dy="15.1">以专题复习的形式)。</tspan></text></g>
<g id="p5-q3"><rect class="bx" x="453" y="5025" width="198" height="22"/><text class="t" x="458" y="5040.3">二、本学期的教学思想及教学策略：</text></g>
<g id="p5-r"><rect class="bx" x="779" y="5208" width="139" height="22"/><text class="t" x="784" y="5223.3">㈠准确定位，因材施教：</text></g>
<g id="p5-r1"><rect class="bx" x="511" y="5076.6" width="244" height="144.8"/><text class="t" x="516" y="5092.9"><tspan x="516">根据我们学校学生的实际情况和新的高考要求</tspan><tspan x="516" dy="15.1">(重点是B级的达标人数)，我们的教学目标在</tspan><tspan x="516" dy="15.1">难度系数上不是面向高考试题的全部，而主要</tspan><tspan x="516" dy="15.1">定位在85%。(高考试题的难度系数是6：2：</tspan><tspan x="516" dy="15.1">2)，让尽可能多的同学能拿到试卷上80%分数</tspan><tspan x="516" dy="15.1">。此外，对于班内少数学有余力的同学，老师</tspan><tspan x="516" dy="15.1">可以提供一些要求比较高的练习。争取高考试</tspan><tspan x="516" dy="15.1">卷上的20%。而对于少数基础较差的同学，</tspan><tspan x="516" dy="15.1">则相反。</tspan></text></g>
<g id="p5-r2"><rect class="bx" x="511" y="5249" width="244" height="84.4"/><text class="t" x="516" y="5265.3"><tspan x="516">在准确定位的基础上，本学期我们高三备课组</tspan><tspan x="516" dy="15.1">继续团结协作，发挥备课组集体备课的优势。</tspan><tspan x="516" dy="15.1">坚持集体备课，分章节由专门老师负责有关的</tspan><tspan x="516" dy="15.1">知识点扫描、教案和统一练习、测试，遇到问</tspan><tspan x="516" dy="15.1">题共同研究解决。</tspan></text></g>
<g id="p5-s"><rect class="bx" x="838" y="5786" width="80" height="22"/><text class="t" x="843" y="5801.3">㈡教学策略：</text></g>
<g id="p5-s1"><rect class="bx" x="736" y="5429" width="78" height="22"/><text class="t" x="741" y="5444.3">1、抓好基础</text></g>
<g id="p5-t1"><rect class="bx" x="472" y="5361" width="245" height="159.9"/><text class="t" x="477" y="5377.3"><tspan x="477">高考不管怎么考，基础知识始终少不了，能力</tspan><tspan x="477" dy="15.1">的培养，更是建立在基础知识之上。历年的高</tspan><tspan x="477" dy="15.1">考卷上也体现了这一点，尤其是今年的江苏高</tspan><tspan x="477" dy="15.1">考卷更体现了基础知识的重要性。因此，在教</tspan><tspan x="477" dy="15.1">学中要注重基础知识的教学，在第一轮复习时</tspan><tspan x="477" dy="15.1">，我们对于基本知识点逐章逐节进行复习，生</tspan><tspan x="477" dy="15.1">物学科虽属理科，但一些基本的知识相当一部</tspan><tspan x="477" dy="15.1">分需要记忆。今年，我们在每一章复习完时，</tspan><tspan x="477" dy="15.1">都进行基本功测试，来促进学生对课本上的基</tspan><tspan x="477" dy="15.1">础知识进行复习和掌握。</tspan></text></g>
<g id="p5-s2"><rect class="bx" x="739" y="5618" width="75" height="22"/><text class="t" x="744" y="5633.3">2、方法指导</text></g>
<g id="p5-t2"><rect class="bx" x="472" y="5548" width="245" height="159.9"/><text class="t" x="477" y="5564.3"><tspan x="477">在高三的整个教学过程中，注重对学生进行学</tspan><tspan x="477" dy="15.1">法指导和解题方法的指导。以往高三学生的困</tspan><tspan x="477" dy="15.1">惑表现在：有的同学花了时间在生物上，就是</tspan><tspan x="477" dy="15.1">学不好，不知该如何来学生物;还有的同学是</tspan><tspan x="477" dy="15.1">题目看上去会的，也理解的，就是不知如何来</tspan><tspan x="477" dy="15.1">解题。这些都说明了在学生的学习方法和解题</tspan><tspan x="477" dy="15.1">方法上还存在着一些问题。而学习方法和解题</tspan><tspan x="477" dy="15.1">的技巧与方法不是一天两天就能掌握的。这都</tspan><tspan x="477" dy="15.1">需要老师在平常的复习中和练习中加以指导和</tspan><tspan x="477" dy="15.1">归类总结。</tspan></text></g>
<g id="p5-s3"><rect class="bx" x="669" y="5759" width="145" height="22"/><text class="t" x="674" y="5774.3">3、做好课后的辅导工作。</text></g>
<g id="p5-t3"><rect class="bx" x="402" y="5736" width="243" height="69.3"/><text class="t" x="407" y="5752.3"><tspan x="407">高三的教学工作是繁重的，但在课堂中，由于</tspan><tspan x="407" dy="15.1">学生的个体存在着差异，有些同学的基础好，</tspan><tspan x="407" dy="15.1">有些差些。"一支独秀不是春"，对于个别同学</tspan><tspan x="407" dy="15.1">老师尽量做好课后的督促辅导工作。</tspan></text></g>
<g id="p5-s4"><rect class="bx" x="739" y="5841" width="75" height="22"/><text class="t" x="744" y="5856.3">4、分工协作</text></g>
<g id="p5-t4"><rect class="bx" x="472" y="5833" width="245" height="39.1"/><text class="t" x="477" y="5849.3"><tspan x="477">在高三复习工作中，分工协作，编写好第一轮</tspan><tspan x="477" dy="15.1">复习的教学案，群策群力，做到资源共享。</tspan></text></g>
<g id="p5-s5"><rect class="bx" x="715" y="6144" width="99" height="22"/><text class="t" x="720" y="6159.3">5、把握四个环节</text></g>
<g id="p5-u1"><rect class="bx" x="449" y="5899" width="244" height="99.5"/><text class="t" x="454" y="5915.3"><tspan x="454">⑴懂。虽然高三是复习，但基于学生的基础和</tspan><tspan x="454" dy="15.1">平时生物课训练少的事实，许多复习课只能当</tspan><tspan x="454" dy="15.1">新课上，第一轮复习至关重要。在课堂上，我</tspan><tspan x="454" dy="15.1">们要让每一个学生听懂，特别是在第一轮复习</tspan><tspan x="454" dy="15.1">中，在追求进度的同时更要追求质量，让每一</tspan><tspan x="454" dy="15.1">个学生在每一堂课上都有较大的收获。</tspan></text></g>
<g id="p5-u2"><rect class="bx" x="449" y="6027" width="244" height="84.4"/><text class="t" x="454" y="6043.3"><tspan x="454">⑵做。习题是对所学知识进行巩固的一个重要</tspan><tspan x="454" dy="15.1">手段，我们把习题作为查漏补缺、提高能力的</tspan><tspan x="454" dy="15.1">重要途径。对于习题，我们切实落实精选、全</tspan><tspan x="454" dy="15.1">批、选讲、订错四个环节，同时，要想尽办法</tspan><tspan x="454" dy="15.1">让学生去认真做，在做中有所得。</tspan></text></g>
<g id="p5-u3"><rect class="bx" x="449" y="6138" width="244" height="144.8"/><text class="t" x="454" y="6154.3"><tspan x="454">⑶思。①在教学中，我们将充分发挥学生的主</tspan><tspan x="454" dy="15.1">体作用，多让学生参与，多让学生动手，让学</tspan><tspan x="454" dy="15.1">生始终在思考中度过，一节课下来要让学生感</tspan><tspan x="454" dy="15.1">到有点累。②一段时间教学或每次考试后，教</tspan><tspan x="454" dy="15.1">师将及时反思，总结经验和不足，及时调整计</tspan><tspan x="454" dy="15.1">划或改善策略。同时，积极引导学生反思，梳</tspan><tspan x="454" dy="15.1">理知识点，发现问题及时弥补。对于错题要引</tspan><tspan x="454" dy="15.1">导学生注意收集整理，一段时间后及时复习巩</tspan><tspan x="454" dy="15.1">固，温故知新。</tspan></text></g>
<g id="p5-u4"><rect class="bx" x="449" y="6310" width="244" height="99.5"/><text class="t" x="454" y="6326.3"><tspan x="454">⑷悟。高考是基础知识和能力考查相结合的考</tspan><tspan x="454" dy="15.1">试。在注重夯实基础的前提下，还要注重归纳</tspan><tspan x="454" dy="15.1">概括能力和创新能力的培养。在教学中，要经</tspan><tspan x="454" dy="15.1">常引导学生在思考和反思中悟出一些规律，悟</tspan><tspan x="454" dy="15.1">出一些独特的属于自己的解题技巧、解题方法</tspan><tspan x="454" dy="15.1">。</tspan></text></g>

<!-- right side -->
<g id="intro"><rect class="l1" x="1415" y="1882" width="248" height="234"/><text class="tw" x="1422" y="1904.5"><tspan x="1422">工作计划是完成工作任务的重要保</tspan><tspan x="1422" dy="20.1">障。我们常常看到有些员工整天无</tspan><tspan x="1422" dy="20.1">所事事，要问他们是否真的没事可</tspan><tspan x="1422" dy="20.1">做了，事情都完成了吗?答案应该是</tspan><tspan x="1422" dy="20.1">否定的。寻找原因可能就是他们没</tspan><tspan x="1422" dy="20.1">有一个合理的工作计划，总觉得有</tspan><tspan x="1422" dy="20.1">千头万绪的事情要做，但就是不知</tspan><tspan x="1422" dy="20.1">道从何下手，久而久之事情越积越</tspan><tspan x="1422" dy="20.1">多，就更加束手无策了。接下来是</tspan><tspan x="1422" dy="20.1">关于高中生物备课组教学计划的文</tspan><tspan x="1422" dy="20.1">章，希望能帮助到大家!</tspan></text></g>
<g id="plan2"><rect class="l1" x="1415" y="2651" width="189" height="33"/><text class="tw" x="1423" y="2672.4">高中生物备课组教学计划2</text></g>
<g id="p2-w1"><rect class="bx" x="1626" y="2143.3" width="245" height="235.4"/><text class="t" x="1631" y="2159.6"><tspan x="1631">本学期的教学内容有：组成生物体的分子与细</tspan><tspan x="1631" dy="15.1">胞、从细胞到生物圈的生命结构层次、细胞的</tspan><tspan x="1631" dy="15.1">分类、细胞的多样性与统一性、组装细胞之阅</tspan><tspan x="1631" dy="15.1">读内容、研究元素与化合物、蛋白质的结构与</tspan><tspan x="1631" dy="15.1">功能、人工合成蛋白质、人类的蛋白质组计划</tspan><tspan x="1631" dy="15.1">、核酸的结构和功能、糖类的分类和功能、脂</tspan><tspan x="1631" dy="15.1">质的分类和功能、无机物的类型和功能、细胞</tspan><tspan x="1631" dy="15.1">的基本结构、细胞膜的结构和功能、细胞质、</tspan><tspan x="1631" dy="15.1">细胞器、细胞核、细胞探微、物质输入与输出</tspan><tspan x="1631" dy="15.1">、跨膜运输、膜流动镶嵌模型、运输方式、通</tspan><tspan x="1631" dy="15.1">道蛋白质研究、细胞能量供应和利用、降低活</tspan><tspan x="1631" dy="15.1">化能的酶、酶作用的本质、酶特征、ATP、细</tspan><tspan x="1631" dy="15.1">胞呼吸、光合作用、色素的结构、光合原理和</tspan><tspan x="1631" dy="15.1">应用、细胞增殖、分化、衰老、凋亡、癌变等</tspan><tspan x="1631" dy="15.1">内容。</tspan></text></g>
<g id="p2-w2"><rect class="bx" x="1626" y="2407" width="233" height="22"/><text class="t" x="1631" y="2422.3">针对以上教学内容，我准备做好以下工作。</text></g>
<g id="p2-w3"><rect class="bx" x="1626" y="2481" width="198" height="22"/><text class="t" x="1631" y="2496.3">第一，从宏观上把握生物教学内容。</text></g>
<g id="p2-w3c"><rect class="bx" x="1847" y="2458" width="244" height="69.3"/><text class="t" x="1852" y="2474.3"><tspan x="1852">只有从宏观上加以把握，才能更好地抓住教学</tspan><tspan x="1852" dy="15.1">的主动权，了解章节内容的地位，使自己的教</tspan><tspan x="1852" dy="15.1">学思路更加清晰明了。否则，教材不能系统性</tspan><tspan x="1852" dy="15.1">地把握，就会陷入盲目性。</tspan></text></g>
<g id="p2-w4"><rect class="bx" x="1626" y="2571" width="198" height="22"/><text class="t" x="1631" y="2586.3">第二，从微观上细心揣摩章节内容。</text></g>
<g id="p2-w4c"><rect class="bx" x="1847" y="2556" width="244" height="54.2"/><text class="t" x="1852" y="2572.3"><tspan x="1852">将章节内容放在整个教材体系的大背景下考虑</tspan><tspan x="1852" dy="15.1">，使教学内容具有全面性和完整性，也使章节</tspan><tspan x="1852" dy="15.1">内容具有整体性和层次性。</tspan></text></g>
<g id="p2-w5"><rect class="bx" x="1626" y="2659.5" width="245" height="39.1"/><text class="t" x="1631" y="2675.8"><tspan x="1631">第三，辨证地对待新教材体系，用扬弃的方法</tspan><tspan x="1631" dy="15.1">剖析教材。</tspan></text></g>
<g id="p2-w5c"><rect class="bx" x="1894" y="2637" width="245" height="84.4"/><text class="t" x="1899" y="2653.3"><tspan x="1899">充分利用新教材的特点，发挥学生学习的主观</tspan><tspan x="1899" dy="15.1">能动性，变学生为学习的真正主人，多用研究</tspan><tspan x="1899" dy="15.1">性学习、探讨性学习的方法，同时也要使教学</tspan><tspan x="1899" dy="15.1">更富有人文色彩。对老教材的优点也要充分继</tspan><tspan x="1899" dy="15.1">承，因为新教材也还有诸多不完善的地方。</tspan></text></g>
<g id="p2-w6"><rect class="bx" x="1626" y="2787" width="186" height="22"/><text class="t" x="1631" y="2802.3">第四，认真把握教学的基本环节。</text></g>
<g id="p2-w6c"><rect class="bx" x="1835" y="2748" width="245" height="99.5"/><text class="t" x="1840" y="2764.3"><tspan x="1840">备课要多花时间，要离得开书本，要洞悉书本</tspan><tspan x="1840" dy="15.1">内容，只有深入才能浅出。上课要精神抖擞，</tspan><tspan x="1840" dy="15.1">与学生加强互动性。批改作业和试卷要细心认</tspan><tspan x="1840" dy="15.1">真。不靠搞题海战提高成绩，要高度重视书本</tspan><tspan x="1840" dy="15.1">知识，在学生现有的知识水平上布置适量的配</tspan><tspan x="1840" dy="15.1">套练习使之提高。</tspan></text></g>
<g id="p2-w7"><rect class="bx" x="1626" y="2876" width="245" height="54.2"/><text class="t" x="1631" y="2892.3"><tspan x="1631">第五，要充分利用好教室内的教学平台和实验</tspan><tspan x="1631" dy="15.1">室的设施，进一步优化教学手段，激发学生的</tspan><tspan x="1631" dy="15.1">学习兴趣，提高教学效率。</tspan></text></g>
<g id="p2-w8"><rect class="bx" x="1626" y="2974" width="233" height="22"/><text class="t" x="1631" y="2989.3">第六，在教学上，要注意向他人取经学习。</text></g>
<g id="p2-w8c"><rect class="bx" x="1883" y="2958" width="244" height="54.2"/><text class="t" x="1888" y="2974.3"><tspan x="1888">珍惜外出参观学习的机会，做到有付出一定要</tspan><tspan x="1888" dy="15.1">有收获。善于听课，取人之长，补己之短。对</tspan><tspan x="1888" dy="15.1">专家教授的讲课更要细心领悟学习。</tspan></text></g>
<g id="p2-w9"><rect class="bx" x="1626" y="3040" width="245" height="69.3"/><text class="t" x="1631" y="3056.3"><tspan x="1631">第七，生物科学是非常人文的一门学科，自己</tspan><tspan x="1631" dy="15.1">要认真研究高一学生的心理状况，只有全方位</tspan><tspan x="1631" dy="15.1">地把握学生的情况，才能真正做到因材施教，</tspan><tspan x="1631" dy="15.1">取得教学上真正的主动。</tspan></text></g>
<g id="p2-w9c"><rect class="bx" x="1894" y="3055" width="245" height="39.1"/><text class="t" x="1899" y="3071.3"><tspan x="1899">我相信，只要自己努力，一定会取得教学上更</tspan><tspan x="1899" dy="15.1">大的进步。</tspan></text></g>

<g id="plan4"><rect class="l1" x="1415" y="3652" width="189" height="33"/><text class="tw" x="1423" y="3673.4">高中生物备课组教学计划4</text></g>
<g id="p4-x0"><rect class="bx" x="1626" y="3588" width="245" height="159.9"/><text class="t" x="1631" y="3604.3"><tspan x="1631">为了提高高一生物教学质量，促进新课程改革</tspan><tspan x="1631" dy="15.1">的实施，本备课组努力以新课程理念为指引，</tspan><tspan x="1631" dy="15.1">以学校教学工作计划为指南，努力推进高中生</tspan><tspan x="1631" dy="15.1">物新课程改革，构建有科组特色的新课程体系</tspan><tspan x="1631" dy="15.1">，改变原有教学观念，改进教学方法，更新教</tspan><tspan x="1631" dy="15.1">学手段，提高教学效率，努力培养学生自主学</tspan><tspan x="1631" dy="15.1">习、积极探究、乐于合作的精神，使生物教学</tspan><tspan x="1631" dy="15.1">科研上一个新台阶。根据生物学科的特点和学</tspan><tspan x="1631" dy="15.1">生实际，特制定新学期高一生物组工作计划如</tspan><tspan x="1631" dy="15.1">下：</tspan></text></g>
<g id="p4-s1"><rect class="bx" x="1894" y="3198" width="81" height="22"/><text class="t" x="1899" y="3213.3">一、教材分析</text></g>
<g id="p4-y1"><rect class="bx" x="1997" y="3137.6" width="245" height="144.8"/><text class="t" x="2002" y="3153.9"><tspan x="2002">高中生物新课程分为必修和选修，共六大模块</tspan><tspan x="2002" dy="15.1">，高一上学期学习必修1：分子与细胞模块。</tspan><tspan x="2002" dy="15.1">参照生物课程标准，共需36课时，共六章，</tspan><tspan x="2002" dy="15.1">本学期的教学内容有：走进细胞、组成细胞的</tspan><tspan x="2002" dy="15.1">分子、细胞的基本结构、物质的输入和输出、</tspan><tspan x="2002" dy="15.1">细胞的能量供应和利用和细胞的生命历程。本</tspan><tspan x="2002" dy="15.1">模块选取了细胞生物学的最基本知识，以及细</tspan><tspan x="2002" dy="15.1">胞研究的新进展和实际应用，这些知识内容也</tspan><tspan x="2002" dy="15.1">是学习其他模块必备的基础。</tspan></text></g>
<g id="p4-s2"><rect class="bx" x="1894" y="3363" width="81" height="22"/><text class="t" x="1899" y="3378.3">二、学情分析</text></g>
<g id="p4-y2"><rect class="bx" x="1997" y="3309" width="245" height="129.7"/><text class="t" x="2002" y="3325.3"><tspan x="2002">高一学生通过初中生物课的学习，对于生物学</tspan><tspan x="2002" dy="15.1">应该有了一定的了解，但由于多数学校不开设</tspan><tspan x="2002" dy="15.1">生物，学生缺乏必要的生物知识基础，因此给</tspan><tspan x="2002" dy="15.1">教学带来很大困难。这就要求我们在开学初向</tspan><tspan x="2002" dy="15.1">同学们灌输生物课程的重要性，要关心每一位</tspan><tspan x="2002" dy="15.1">学生的学习状况，努力激发学生学习生物的兴</tspan><tspan x="2002" dy="15.1">趣，多做实验或观看实验视频，充分发挥学生</tspan><tspan x="2002" dy="15.1">在学习过程中的自主探究。</tspan></text></g>
<g id="p4-s3"><rect class="bx" x="1894" y="3557" width="105" height="22"/><text class="t" x="1899" y="3572.3">三、学期教学目标</text></g>
<g id="p4-y3"><rect class="bx" x="2021" y="3466.4" width="245" height="205.2"/><text class="t" x="2026" y="3482.7"><tspan x="2026">通过本模块的学习，学生将在微观层面上了解</tspan><tspan x="2026" dy="15.1">生命的物质性和生物界的物质统一性，活细胞</tspan><tspan x="2026" dy="15.1">中物质、能量和信息变化的统一，细胞结构与</tspan><tspan x="2026" dy="15.1">功能的统一，生物体部分和整体的统一等，有</tspan><tspan x="2026" dy="15.1">助于辩证唯物主义自然观的形成。通过自主学</tspan><tspan x="2026" dy="15.1">习，培养学生的自学能力、归纳、总结分析能</tspan><tspan x="2026" dy="15.1">力;通过合作探究培养学生对信息的获取、判</tspan><tspan x="2026" dy="15.1">断和利用能力;通过评价，培养学生的语言表</tspan><tspan x="2026" dy="15.1">述能力和评价能力;通过课堂练习，培养学生</tspan><tspan x="2026" dy="15.1">对于知识的应用能力、发散能力和迁移能力;</tspan><tspan x="2026" dy="15.1">通过对知识的学习，调动学生学习生物的主动</tspan><tspan x="2026" dy="15.1">性，增强学生对于自身的了解和对社会问题的</tspan><tspan x="2026" dy="15.1">关注。</tspan></text></g>
<g id="p4-s4"><rect class="bx" x="1894" y="4117" width="81" height="22"/><text class="t" x="1899" y="4132.3">四、具体措施</text></g>
<g id="p4-z1"><rect class="bx" x="1997" y="3698.5" width="245" height="39.1"/><text class="t" x="2002" y="3714.8"><tspan x="2002">1.在包组领导的指导下完成各项教研、教学工</tspan><tspan x="2002" dy="15.1">作。</tspan></text></g>
<g id="p4-z2"><rect class="bx" x="1997" y="3765" width="245" height="84.4"/><text class="t" x="2002" y="3781.3"><tspan x="2002">2.全面贯彻执行教育部《普通高中课程方案(</tspan><tspan x="2002" dy="15.1">实验)》，结合本组实际，进行教学改革。学</tspan><tspan x="2002" dy="15.1">习生物课程标准，明确新课程的具体要求，利</tspan><tspan x="2002" dy="15.1">用备课组活动时间，认真学习新课程教学理念</tspan><tspan x="2002" dy="15.1">，深入研究教学方法。</tspan></text></g>
<g id="p4-z3"><rect class="bx" x="1997" y="3877" width="245" height="159.9"/><text class="t" x="2002" y="3893.3"><tspan x="2002">3.组织好每周年级组集体备课，定时间定内容</tspan><tspan x="2002" dy="15.1">定主备人(具体分工见教学进度表)，主讲教师</tspan><tspan x="2002" dy="15.1">简要介绍讲课内容的整体构想、教学目标、重</tspan><tspan x="2002" dy="15.1">点和难点的确定和解决策略、教材处理方式和</tspan><tspan x="2002" dy="15.1">讲授顺序、训练习题选择和知识的检查及落实</tspan><tspan x="2002" dy="15.1">、高考要求等，然后由大家集体讨论研究，共</tspan><tspan x="2002" dy="15.1">同分析教材,研究教法,探讨疑难问题,提出改进</tspan><tspan x="2002" dy="15.1">意见，完善讲授、训练内容及评价标准、对下</tspan><tspan x="2002" dy="15.1">一阶段教学做到有的放矢，把握重点突破难点</tspan><tspan x="2002" dy="15.1">，以及做好教后反思。</tspan></text></g>
<g id="p4-z4"><rect class="bx" x="1997" y="4065.5" width="245" height="39.1"/><text class="t" x="2002" y="4081.8"><tspan x="2002">4.完成实验班练习编写、批阅和评价工作以及</tspan><tspan x="2002" dy="15.1">普通班课堂笔记和练习的检查。</tspan></text></g>
<g id="p4-z5"><rect class="bx" x="1997" y="4131" width="245" height="69.3"/><text class="t" x="2002" y="4147.3"><tspan x="2002">5.认真做好新的教师传帮带工作，新教师要经</tspan><tspan x="2002" dy="15.1">常听老教师的课，备课组长也要跟踪听新教师</tspan><tspan x="2002" dy="15.1">的课，使他们迅速成长，尽快达到学校的标准</tspan><tspan x="2002" dy="15.1">和要求，以适应一种教学发展的需要。</tspan></text></g>
<g id="p4-z6"><rect class="bx" x="1997" y="4228" width="245" height="84.4"/><text class="t" x="2002" y="4244.3"><tspan x="2002">6.进一步加强现代教育技术的应用，切实提高</tspan><tspan x="2002" dy="15.1">现代化设备的利用效率。每位教师认真钻研网</tspan><tspan x="2002" dy="15.1">络环境下的课堂教学模式，积极制作课件，改</tspan><tspan x="2002" dy="15.1">进教学手段和方法，提高课堂教学效率，真正</tspan><tspan x="2002" dy="15.1">发挥现代化设备的作用。</tspan></text></g>
<g id="p4-z7"><rect class="bx" x="1997" y="4341" width="245" height="54.2"/><text class="t" x="2002" y="4357.3"><tspan x="2002">7.加强网络教研，组织本组教师积极参加内质</tspan><tspan x="2002" dy="15.1">网互动平台，积极参加网络问题的研讨，取人</tspan><tspan x="2002" dy="15.1">之长，补己之短。</tspan></text></g>
<g id="p4-z8"><rect class="bx" x="1997" y="4423" width="245" height="54.2"/><text class="t" x="2002" y="4439.3"><tspan x="2002">8.配合生物学科组搞好本学科集体教研工作，</tspan><tspan x="2002" dy="15.1">切实为提高学校生物整体教学水平和高考备考</tspan><tspan x="2002" dy="15.1">工作而努力，兴教研之风，树教研氛围。</tspan></text></g>
<g id="p4-z9"><rect class="bx" x="1997" y="4518.5" width="245" height="39.1"/><text class="t" x="2002" y="4534.8"><tspan x="2002">9.完成本学期新课程学生研究性学习和评价工</tspan><tspan x="2002" dy="15.1">作。</tspan></text></g>
<g id="p4-z9a"><rect class="bx" x="2266" y="4504" width="243" height="69.3"/><text class="t" x="2271" y="4520.3"><tspan x="2271">新学期我们将继续本着团结一致，勤沟通，勤</tspan><tspan x="2271" dy="15.1">研究，重探索，重实效的原则，在总结上一学</tspan><tspan x="2271" dy="15.1">年经验教训的前提下，认真地完成各项教研任</tspan><tspan x="2271" dy="15.1">务。</tspan></text></g>

<g id="related"><rect class="l1" x="1415" y="4820" width="248" height="52"/><text class="tw" x="1422" y="4841.3"><tspan x="1422">高中生物备课组教学计划相关文章</tspan><tspan x="1422" dy="20.1">：</tspan></text></g>
<g id="rel1"><rect class="bx" x="1685" y="4602" width="177" height="22"/><text class="t" x="1690" y="4617.3">★ 关于高一生物备课组教学计划</text></g>
<g id="rel2"><rect class="bx" x="1685" y="4654" width="177" height="22"/><text class="t" x="1690" y="4669.3">★ 关于高中生物教学备课组总结</text></g>
<g id="rel3"><rect class="bx" x="1685" y="4706" width="160" height="22"/><text class="t" x="1690" y="4721.3">★ 高中生物学科教学计划5篇</text></g>
<g id="rel4"><rect class="bx" x="1685" y="4758" width="136" height="22"/><text class="t" x="1690" y="4773.3">★ 生物全册教学计划5篇</text></g>
<g id="rel5"><rect class="bx" x="1685" y="4809" width="196" height="22"/><text class="t" x="1690" y="4824.3">★ 高中生物必修二生物教学计划5篇</text></g>
<g id="rel6"><rect class="bx" x="1685" y="4861" width="196" height="22"/><text class="t" x="1690" y="4876.3">★ 关于高三生物教学计划与方案5篇</text></g>
<g id="rel7"><rect class="bx" x="1685" y="4913" width="192" height="22"/><text class="t" x="1690" y="4928.3">★ 第一学期高三生物教学计划2021</text></g>
<g id="rel8"><rect class="bx" x="1685" y="4965" width="199" height="22"/><text class="t" x="1690" y="4980.3">★ 2021高中物理备课组教学计划5篇</text></g>
<g id="rel9"><rect class="bx" x="1685" y="5016" width="188" height="22"/><text class="t" x="1690" y="5031.3">★ 2021年七上生物组教学计划5篇</text></g>
<g id="rel10"><rect class="bx" x="1685" y="5068" width="184" height="22"/><text class="t" x="1690" y="5083.3">★ 高中生物学科分组教学总结5篇</text></g>
</g>
</svg>
